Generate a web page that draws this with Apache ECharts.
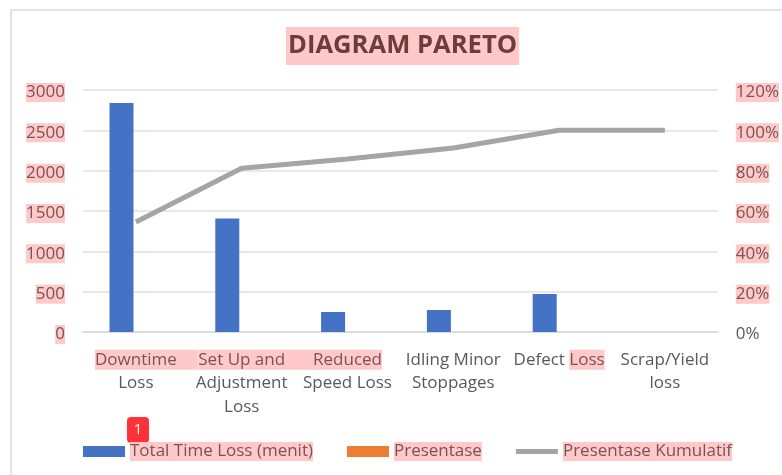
<!DOCTYPE html>
<html>
<head>
<meta charset="utf-8">
<title>Diagram Pareto</title>
<script src="https://cdn.jsdelivr.net/npm/echarts@6/dist/echarts.min.js"></script>
<style>
  html, body { margin: 0; padding: 0; background: #fff; overflow: hidden; }
  .frame { position: absolute; left: 10px; top: 9px; width: 800px; height: 500px; border: 2px solid #e4e4e4; }
  #chart { position: absolute; left: 0; top: 0; width: 782px; height: 475px; }
</style>
</head>
<body>
<div class="frame"></div>
<div id="chart"></div>
<script>
  const categories = ['Downtime\nLoss', 'Set Up and\nAdjustment\nLoss', 'Reduced\nSpeed Loss', 'Idling Minor\nStoppages', 'Defect Loss', 'Scrap/Yield\nloss']
  const timeLoss = [2839, 1407, 248, 273, 471, 0]
  const presentase = [0.54, 0.27, 0.05, 0.05, 0.09, 0]
  const kumulatif = [0.545, 0.812, 0.858, 0.912, 1, 1]
  const leftTicks = [0, 500, 1000, 1500, 2000, 2500, 3000]

  const fontFamily = '"Open Sans", "Noto Sans", sans-serif'
  const pink = '#ffc9c9'
  const pinkText = '#7d5252'
  const grayText = '#595959'

  // the pink highlight only covers some of the labels
  function categoryLabel(value, index) {
    const lines = value.split('\n')
    if (index === 0) lines[0] = '{gapA|}{bandA|' + lines[0] + '}'
    else if (index === 1) lines[0] = '{gapB|}{bandB|' + lines[0] + '}'
    else if (index === 2) lines[0] = '{band|' + lines[0] + '}'
    else if (index === 4) lines[0] = '{plain|Defect }{band|Loss}'
    else lines[0] = '{plain|' + lines[0] + '}'
    return lines[0] + '\n' + lines.slice(1).map(function (l) { return '{plain|' + l + '}' }).join('\n')
  }

  const bandStyle = { color: pinkText, backgroundColor: pink, fontSize: 17, lineHeight: 23.5, height: 20, fontFamily: fontFamily }
  const plainStyle = { color: grayText, fontSize: 17, lineHeight: 23.5, fontFamily: fontFamily }
  const tickBand = { color: pinkText, fontSize: 17, fontFamily: fontFamily, backgroundColor: pink, padding: [1, 0] }
  const tickPlain = { color: grayText, fontSize: 17, fontFamily: fontFamily }

  const chart = echarts.init(document.getElementById('chart'), null, { renderer: 'canvas' })
  chart.setOption({
    animation: false,
    title: {
      text: 'DIAGRAM PARETO',
      left: 286,
      top: 27,
      padding: [2, 2],
      backgroundColor: pink,
      textStyle: {
        color: '#6b3d3d',
        fontSize: 25.6,
        fontWeight: 'bold',
        fontFamily: fontFamily,
        lineHeight: 34
      }
    },
    grid: { left: 83, right: 62, top: 90, bottom: 143 },
    legend: {
      left: 83,
      top: 442,
      padding: 0,
      itemWidth: 42,
      itemHeight: 11,
      itemGap: 34,
      textStyle: {
        color: pinkText,
        fontSize: 17,
        fontFamily: fontFamily,
        backgroundColor: pink,
        padding: [1, 0]
      },
      data: [
        { name: 'Total Time Loss (menit)', icon: 'rect' },
        { name: 'Presentase', icon: 'rect' },
        // thin bar inside the same icon box, like the line swatch
        { name: 'Presentase Kumulatif', icon: 'path://M0,0L0,0M0,3H42V8H0ZM42,11L42,11', itemStyle: { color: '#a5a5a5' } }
      ]
    },
    xAxis: {
      type: 'category',
      data: categories,
      axisTick: { show: false },
      axisLine: { lineStyle: { color: '#dcdcdc', width: 2 } },
      axisLabel: {
        interval: 0,
        margin: 16,
        formatter: categoryLabel,
        rich: {
          plain: plainStyle,
          band: bandStyle,
          bandA: Object.assign({}, bandStyle, { padding: [0, 21, 0, 0] }),
          bandB: Object.assign({}, bandStyle, { padding: [0, 31, 0, 0] }),
          gapA: { width: 21 },
          gapB: { width: 31 }
        }
      }
    },
    yAxis: [
      {
        type: 'value',
        min: leftTicks[0],
        max: leftTicks[leftTicks.length - 1],
        interval: 500,
        axisLine: { show: false },
        axisTick: { show: false },
        splitLine: { lineStyle: { color: '#e0e0e0', width: 1.5 } },
        axisLabel: {
          margin: 18,
          padding: [5, 0, 0, 0],
          formatter: function (v) { return '{band|' + v + '}' },
          rich: { band: tickBand }
        }
      },
      {
        type: 'value',
        min: 0,
        max: 1.2,
        interval: 0.2,
        axisLine: { show: false },
        axisTick: { show: false },
        splitLine: { show: false },
        axisLabel: {
          margin: 18,
          padding: [5, 0, 0, 0],
          formatter: function (v) {
            const txt = Math.round(v * 100) + '%'
            return v === 0 ? '{plain|' + txt + '}' : '{band|' + txt + '}'
          },
          rich: { plain: tickPlain, band: tickBand }
        }
      }
    ],
    series: [
      {
        name: 'Total Time Loss (menit)',
        type: 'bar',
        barWidth: 24,
        barGap: '20%',
        itemStyle: { color: '#4472c4' },
        data: timeLoss
      },
      {
        name: 'Presentase',
        type: 'bar',
        barWidth: 24,
        itemStyle: { color: '#ed7d31' },
        data: presentase
      },
      {
        name: 'Presentase Kumulatif',
        type: 'line',
        yAxisIndex: 1,
        symbol: 'none',
        lineStyle: { color: '#a5a5a5', width: 5 },
        itemStyle: { color: '#a5a5a5' },
        data: kumulatif
      }
    ],
    graphic: [
      {
        type: 'group',
        left: 127,
        top: 417,
        z: 100,
        children: [
          { type: 'rect', shape: { width: 22, height: 26, r: 4 }, style: { fill: '#ff3238' } },
          {
            type: 'text',
            x: 11,
            y: 13,
            style: { text: '1', fill: '#fff', fontSize: 15, fontFamily: fontFamily, align: 'center', verticalAlign: 'middle' }
          }
        ]
      }
    ]
  })
</script>
</body>
</html>
